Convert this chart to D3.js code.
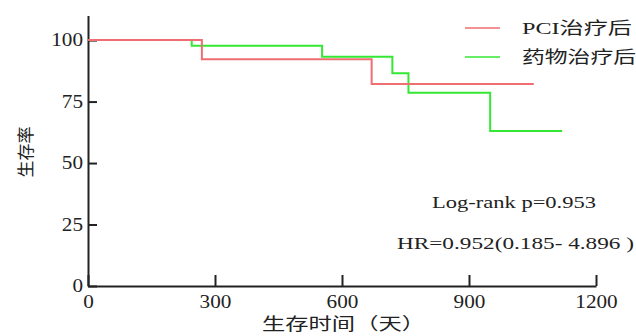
<!DOCTYPE html>
<html>
<head>
<meta charset="utf-8">
<script src="https://cdn.jsdelivr.net/npm/d3@7"></script>
<style>
  body { margin: 0; background: #fff; }
  svg text { font-family: "Liberation Serif", "Noto Sans CJK SC", serif; fill: #222; }
</style>
</head>
<body>
<svg id="chart" width="636" height="336"></svg>
<script>
// survival curves
const pciTimes = [0, 269, 670, 1053];
const pciSurv = [100, 92.2, 82.1, 82.1];
const drugTimes = [0, 245, 553, 719, 757, 950, 1120];
const drugSurv = [100, 97.7, 93.2, 86.5, 78.6, 63.0, 63.0];

const xTicks = [0, 300, 600, 900, 1200];
const yTicks = [0, 25, 50, 75, 100];

const seriesNames = ['PCI治疗后', '药物治疗后'];
const seriesColors = ['#ee6e72', '#33e833'];

const svg = d3.select('#chart');

// scales
const x = d3.scaleLinear().domain([0, 1200]).range([88, 596]);
const y = d3.scaleLinear().domain([0, 110]).range([286, 15.5]);

// axes (ticks point inward)
const xAxisG = svg.append('g')
    .attr('transform', `translate(0,${y(0)})`)
    .call(d3.axisBottom(x).tickValues(xTicks).tickFormat(d3.format('d'))
        .tickSize(-11).tickSizeOuter(0).tickPadding(9));

const yAxisG = svg.append('g')
    .attr('transform', `translate(${x(0)},0)`)
    .call(d3.axisLeft(y).tickValues(yTicks).tickFormat(d3.format('d'))
        .tickSize(-9).tickSizeOuter(0).tickPadding(5));

[xAxisG, yAxisG].forEach(g => {
    g.select('.domain').attr('stroke', '#222').attr('stroke-width', 2);
    g.selectAll('.tick line').attr('stroke', '#222').attr('stroke-width', 2);
    g.selectAll('.tick text')
        .attr('font-size', 18)
        .attr('textLength', function () { return this.textContent.length * 10.6; })
        .attr('lengthAdjust', 'spacingAndGlyphs')
        .attr('fill', '#222');
});

// step curves
const line = d3.line()
    .x(d => x(d[0]))
    .y(d => y(d[1]))
    .curve(d3.curveStepAfter);

const curves = [
    d3.zip(pciTimes, pciSurv),
    d3.zip(drugTimes, drugSurv)
];

// draw green first so the red curve sits on top
svg.selectAll('.curve')
    .data(curves.map((c, i) => ({ c, i })).reverse())
    .join('path')
    .attr('class', 'curve')
    .attr('fill', 'none')
    .attr('stroke', d => seriesColors[d.i])
    .attr('stroke-width', 2)
    .attr('d', d => line(d.c));

// legend
const legend = svg.append('g');
seriesNames.forEach((name, i) => {
    const ly = 28 + i * 29;
    legend.append('line')
        .attr('x1', 465).attr('x2', 500)
        .attr('y1', ly).attr('y2', ly)
        .attr('stroke', seriesColors[i])
        .attr('stroke-width', 1.5);
    legend.append('text')
        .attr('x', 522).attr('y', ly + 6)
        .attr('font-size', 17)
        .attr('textLength', i === 0 ? 110 : 114)
        .attr('lengthAdjust', 'spacingAndGlyphs')
        .text(name);
});

// statistics
svg.append('text')
    .attr('x', 432).attr('y', 208)
    .attr('font-size', 17)
    .attr('textLength', 164)
    .attr('lengthAdjust', 'spacingAndGlyphs')
    .text('Log-rank p=0.953');

svg.append('text')
    .attr('x', 397).attr('y', 249)
    .attr('font-size', 17)
    .attr('textLength', 237)
    .attr('lengthAdjust', 'spacingAndGlyphs')
    .text('HR=0.952(0.185- 4.896 )');

// axis titles
svg.append('text')
    .attr('x', 262).attr('y', 330)
    .attr('font-size', 17)
    .attr('textLength', 163)
    .attr('lengthAdjust', 'spacingAndGlyphs')
    .text('生存时间（天）');

svg.append('text')
    .attr('transform', 'translate(32,152) rotate(-90)')
    .attr('text-anchor', 'middle')
    .attr('font-size', 17)
    .text('生存率');
</script>
</body>
</html>
